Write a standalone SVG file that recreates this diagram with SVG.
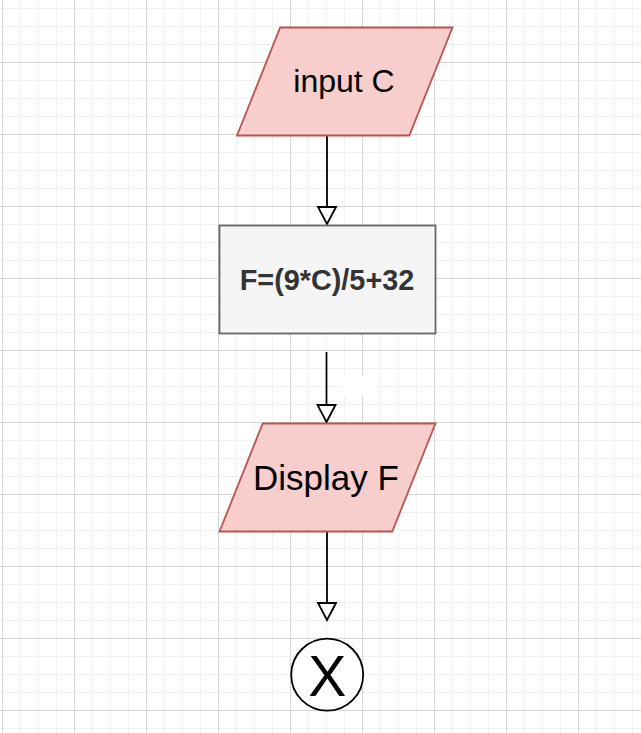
<svg xmlns="http://www.w3.org/2000/svg" width="641" height="733" viewBox="0 0 641 733">
  <defs>
    <pattern id="grid" patternUnits="userSpaceOnUse" x="2" y="-10" width="72" height="72">
      <path d="M18.5,0V72M36.5,0V72M54.5,0V72M0,18.5H72M0,36.5H72M0,54.5H72" stroke="#f0f0f0" stroke-width="1" fill="none"/>
      <path d="M0.5,0V72M0,0.5H72" stroke="#d6d6d6" stroke-width="1" fill="none"/>
    </pattern>
    <marker id="arrow" markerUnits="userSpaceOnUse" markerWidth="22" markerHeight="22" refX="17" refY="9" orient="auto" overflow="visible">
      <path d="M0,0 L17,9 L0,18 Z" fill="#ffffff" stroke="#000000" stroke-width="1.8" stroke-linejoin="miter"/>
    </marker>
    <style>
      .io { fill: #f8cecc; stroke: #b85450; stroke-width: 1.8; }
      .proc { fill: #f5f5f5; stroke: #666666; stroke-width: 1.8; }
      .edge { stroke: #000000; stroke-width: 1.8; fill: none; marker-end: url(#arrow); }
      .lbl { font-family: "Liberation Sans", Arial, sans-serif; text-anchor: middle; fill: #000000; }
    </style>
  </defs>
  <rect x="0" y="0" width="641" height="733" fill="#ffffff"/>
  <rect x="0" y="0" width="641" height="733" fill="url(#grid)"/>

  <g id="connectors">
    <path class="edge" d="M327,136 L327,224"/>
    <path class="edge" d="M326.5,352 L326.5,422"/>
    <path class="edge" d="M327,531.5 L327,620"/>
    <rect x="342" y="376" width="34" height="20" fill="#ffffff"/>
  </g>

  <g id="input-c">
    <polygon class="io" points="280.2,27.5 452.5,27.5 409.3,135.5 237,135.5"/>
    <text class="lbl" x="344" y="92" font-size="32">input C</text>
  </g>

  <g id="compute-f">
    <rect class="proc" x="219.5" y="225.5" width="216" height="108"/>
    <text class="lbl" x="327" y="290" font-size="28.8" font-weight="bold" style="fill:#333333">F=(9*C)/5+32</text>
  </g>

  <g id="display-f">
    <polygon class="io" points="262.7,423.5 435.5,423.5 392.3,531.5 219.5,531.5"/>
    <text class="lbl" x="326" y="490" font-size="35">Display F</text>
  </g>

  <g id="end">
    <circle cx="327.2" cy="674.7" r="36" fill="#ffffff" stroke="#000000" stroke-width="1.8"/>
    <text class="lbl" x="327.2" y="696" font-size="57">X</text>
  </g>
</svg>
